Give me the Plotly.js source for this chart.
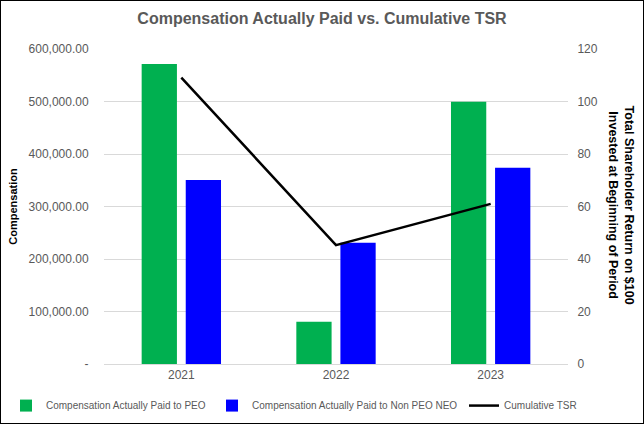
<!DOCTYPE html>
<html>
<head>
<meta charset="utf-8">
<script src="https://cdn.plot.ly/plotly-3.0.1.min.js"></script>
<style>
html,body{margin:0;padding:0;background:#fff;}
#wrap{position:relative;width:644px;height:424px;}
#chart{width:644px;height:424px;}
#frame{position:absolute;left:0;top:0;width:644px;height:424px;box-sizing:border-box;border:1px solid #000;pointer-events:none;}
</style>
</head>
<body>
<div id="wrap"><div id="chart"></div><div id="frame"></div></div>
<script>
var years = ["2021", "2022", "2023"];
var capPEO = [571500, 80500, 499500];
var capNonPEO = [350500, 231000, 374000];
var cumulativeTSR = [109.1, 45.3, 61.0];
var leftTickVals = [0, 100000, 200000, 300000, 400000, 500000, 600000];
var leftTickText = ["-", "100,000.00", "200,000.00", "300,000.00", "400,000.00", "500,000.00", "600,000.00"];
var seriesNames = ["Compensation Actually Paid to PEO", "Compensation Actually Paid to Non PEO NEO", "Cumulative TSR"];

var font = "Liberation Sans, Arial, sans-serif";
var grey = "#595959";

var traces = [
  {type: "bar", name: seriesNames[0], x: years, y: capPEO, marker: {color: "#00B050"}, yaxis: "y", legend: "legend"},
  {type: "bar", name: seriesNames[1], x: years, y: capNonPEO, marker: {color: "#0000FF"}, yaxis: "y", legend: "legend2"},
  {type: "scatter", mode: "lines", name: seriesNames[2], x: years, y: cumulativeTSR, line: {color: "#000000", width: 2.5}, yaxis: "y2", legend: "legend3"}
];

function legendAt(x) {
  return {orientation: "h", x: x, xanchor: "left", y: -0.132, yanchor: "middle", font: {family: font, size: 10, color: grey}, itemwidth: 30, bgcolor: "rgba(0,0,0,0)", borderwidth: 0};
}

var layout = {
  width: 644, height: 424,
  margin: {l: 104, r: 76, t: 49, b: 60, autoexpand: false},
  paper_bgcolor: "#fff", plot_bgcolor: "#fff",
  font: {family: font, size: 11, color: grey},
  title: {text: "Compensation Actually Paid vs. Cumulative TSR", font: {family: font, size: 16, color: grey, weight: "bold"}, x: 0.5, xanchor: "center", y: 0.957, yanchor: "middle"},
  barmode: "group", bargap: 0.43, bargroupgap: 0.2,
  showlegend: true,
  legend: legendAt(-0.2112),
  legend2: legendAt(0.2328),
  legend3: legendAt(0.7759),
  xaxis: {type: "category", showgrid: false, showline: true, linecolor: "#D9D9D9", linewidth: 1, ticks: "", tickfont: {family: font, size: 12, color: grey}, zeroline: false},
  yaxis: {range: [0, 600000], tickvals: leftTickVals, ticktext: leftTickText, showgrid: true, gridcolor: "#D9D9D9", zeroline: false, showline: false, ticks: "outside", ticklen: 12, tickcolor: "rgba(0,0,0,0)", tickfont: {family: font, size: 12, color: grey},
    title: {text: "Compensation", font: {family: font, size: 11, color: "#000", weight: "bold"}, standoff: 8}},
  yaxis2: {range: [0, 120], dtick: 20, overlaying: "y", side: "right", showgrid: false, zeroline: false, showline: false, ticks: "outside", ticklen: 6, tickcolor: "rgba(0,0,0,0)", tickfont: {family: font, size: 12, color: grey}},
  annotations: [{
    text: "<b>Total Shareholder Return on $100<br>Invested at Beginning of Period</b>",
    xref: "paper", yref: "paper", x: 1.115, y: 0.505, xanchor: "center", yanchor: "middle",
    textangle: 90, showarrow: false, font: {family: font, size: 12.5, color: "#000"}
  }]
};

Plotly.newPlot("chart", traces, layout, {displayModeBar: false, staticPlot: true});
</script>
</body>
</html>
